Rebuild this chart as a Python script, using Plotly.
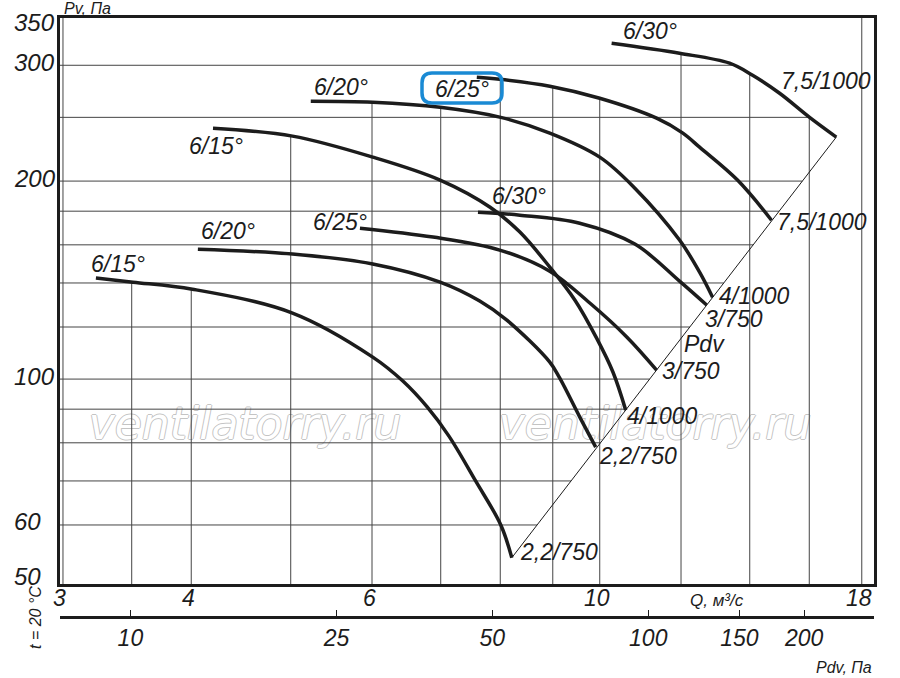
import numpy as np
import plotly.graph_objects as go

# --- данные: Q, м³/с и Pv, Па ---
# нижнее семейство (2,2/750 ... 3/750)
q_15_low = [3.23, 3.51, 4.01, 5.02, 6.01, 6.43, 6.79, 7.13, 7.57, 8.01, 8.21]
pv_15_low = [142.4, 140.4, 137.0, 126.0, 108.0, 99.3, 90.7, 81.9, 70.0, 60.0, 53.5]
q_20_low = [4.06, 5.02, 6.01, 6.99, 7.64, 8.12, 8.94, 9.14, 9.56, 9.91]
pv_20_low = [157.6, 154.9, 149.6, 140.4, 131.4, 122.9, 106.1, 100.4, 87.6, 78.8]
q_25_low = [5.84, 6.88, 7.99, 8.94, 9.78, 10.63, 11.36]
pv_25_low = [169.6, 164.4, 157.1, 145.9, 130.5, 115.8, 103.2]
q_30_low = [7.61, 8.36, 9.56, 10.82, 11.96, 12.71]
pv_30_low = [179.4, 177.5, 172.6, 160.4, 140.9, 129.6]

# верхнее семейство (4/1000 ... 7,5/1000)
q_15_up = [4.20, 5.02, 6.01, 6.99, 7.82, 8.36, 8.94, 9.46, 9.93, 10.30, 10.60]
pv_15_up = [240.7, 234.1, 217.5, 200.7, 182.5, 167.3, 148.0, 131.8, 115.4, 102.5, 89.7]
q_20_up = [5.23, 6.01, 6.99, 7.99, 8.94, 10.00, 10.82, 11.96, 12.51, 12.88]
pv_20_up = [264.5, 263.6, 259.0, 250.2, 236.6, 217.5, 195.1, 162.7, 145.4, 133.2]
q_25_up = [7.59, 7.99, 8.94, 10.00, 11.36, 12.05, 12.51, 13.62, 14.70]
pv_25_up = [287.7, 285.7, 278.8, 267.3, 249.3, 236.6, 225.2, 200.7, 174.4]
q_30_up = [10.27, 11.96, 13.38, 14.09, 14.97, 16.00, 17.00]
pv_30_up = [324.0, 312.9, 302.2, 289.7, 272.0, 250.2, 233.3]

# линия Pdv
pdv_q = [8.21, 17.0]
pdv_pv = [53.5, 233.3]

start_labels = ["6/15°", "6/20°", "6/25°", "6/30°", "6/15°", "6/20°", "6/25°", "6/30°"]
end_labels = ["2,2/750", "2,2/750", "3/750", "3/750", "4/1000", "4/1000", "7,5/1000", "7,5/1000"]

grid_q = [3, 3.5, 4, 5, 6, 7, 8, 9, 10, 12, 14, 16, 18]
grid_pv = [60, 70, 80, 90, 100, 120, 140, 160, 180, 200, 250, 300]
q_ticks = [3, 4, 6, 10, 18]
pv_ticks = [50, 60, 100, 200, 300, 350]
pdv_ticks = [10, 25, 50, 100, 150, 200]

curves = [
    (q_15_low, pv_15_low), (q_20_low, pv_20_low), (q_25_low, pv_25_low), (q_30_low, pv_30_low),
    (q_15_up, pv_15_up), (q_20_up, pv_20_up), (q_25_up, pv_25_up), (q_30_up, pv_30_up),
]

# сдвиги подписей, px
start_shift = [(22, 14), (30, 18), (-20, 6), (41, 16), (3, -18), (30, 14), (-15, -12), (38, 12)]
end_shift = [(6, 6), (1, -9), (3, -1), (-4, -14), (-1, -6), (4, 1), (3, -2), (-57, 56)]

Q_MIN, Q_MAX = 2.98, 18.5
PV_MIN, PV_MAX = 48.8, 354.0
PDV_RANGE = [0.864, 2.436]

W, H = 900, 678
ML, MR, MT, MB = 60, 26, 18, 61
PLOT_BOTTOM = 584


def px(x):
    return (x - ML) / (W - ML - MR)


def py(y):
    return (H - MB - y) / (H - MT - MB)


def lg(v):
    return float(np.log10(v))


# верх вертикальной линии сетки - самая высокая кривая над этим Q
def grid_top(qv):
    tops = []
    for q, pv in curves:
        if q[0] <= qv <= q[-1]:
            tops.append(10 ** np.interp(np.log10(qv), np.log10(q), np.log10(pv)))
    return max(tops) if tops else PV_MAX


# правый конец горизонтальной линии сетки
def grid_right(h):
    ends = []
    for q, pv in curves + [(pdv_q, pdv_pv)]:
        if min(pv) <= h <= max(pv):
            lq, lp = np.log10(q), np.log10(pv)
            order = np.argsort(lp)
            ends.append(10 ** np.interp(np.log10(h), lp[order], lq[order]))
    return max(ends) if ends else Q_MAX


gx, gy = [], []
for qv in grid_q:
    gx += [qv, qv, None]
    gy += [PV_MIN, grid_top(qv), None]
for h in grid_pv:
    gx += [Q_MIN, grid_right(h), None]
    gy += [h, h, None]

ink = "#1c1c1c"
fig = go.Figure()
fig.add_trace(go.Scatter(x=gx, y=gy, mode="lines", line=dict(color="#444444", width=1),
                         hoverinfo="skip", showlegend=False))
fig.add_trace(go.Scatter(x=pdv_q, y=pdv_pv, mode="lines", line=dict(color=ink, width=1),
                         hoverinfo="skip", showlegend=False))
for q, pv in curves:
    fig.add_trace(go.Scatter(x=q, y=pv, mode="lines",
                             line=dict(color=ink, width=3.5, shape="spline", smoothing=1.0),
                             showlegend=False))
# ось Pdv
fig.add_trace(go.Scatter(x=pdv_ticks, y=[None] * len(pdv_ticks), xaxis="x2", yaxis="y",
                         mode="markers", hoverinfo="skip", showlegend=False))

lab_font = dict(family="Liberation Sans", size=23, color=ink, style="italic")
ann = []
for (q, pv), t, (dx, dy) in zip(curves, start_labels, start_shift):
    ann.append(dict(x=lg(q[0]), y=lg(pv[0]), xref="x", yref="y", text=t, showarrow=False,
                    xshift=dx, yshift=dy, xanchor="center", yanchor="middle", font=lab_font))
for (q, pv), t, (dx, dy) in zip(curves, end_labels, end_shift):
    ann.append(dict(x=lg(q[-1]), y=lg(pv[-1]), xref="x", yref="y", text=t, showarrow=False,
                    xshift=dx, yshift=dy, xanchor="left", yanchor="middle", font=lab_font))
ann.append(dict(x=px(704), y=py(344), xref="paper", yref="paper", text="Pdv", showarrow=False,
                xanchor="center", yanchor="middle", font=lab_font))

# подписи оси Pv (выровнены влево, как на оригинале)
axis_font = dict(family="Liberation Sans", size=24, color=ink, style="italic")
for v in pv_ticks:
    shift = -1 if v == max(pv_ticks) else (1 if v == min(pv_ticks) else 3)
    ann.append(dict(x=px(12), y=lg(v), xref="paper", yref="y", text=str(v), showarrow=False,
                    xanchor="left", yanchor="middle", yshift=shift, font=axis_font))
# подписи оси Q
for v in q_ticks:
    ann.append(dict(x=lg(v), y=py(598), xref="x", yref="paper", text=str(v), showarrow=False,
                    xanchor="center", yanchor="middle", xshift=-3, font=dict(axis_font, size=23)))

small = dict(family="Liberation Sans", size=16, color=ink, style="italic")
ann += [
    dict(x=px(62), y=py(8), xref="paper", yref="paper", text="Pv, Па", showarrow=False,
         xanchor="left", yanchor="middle", font=small),
    dict(x=px(688), y=py(600), xref="paper", yref="paper", text="Q, м³/с", showarrow=False,
         xanchor="left", yanchor="middle", font=dict(small, size=17)),
    dict(x=px(814), y=py(667), xref="paper", yref="paper", text="Pdv, Па", showarrow=False,
         xanchor="left", yanchor="middle", font=small),
    dict(x=px(35), y=py(618), xref="paper", yref="paper", text="t = 20 °C", showarrow=False,
         textangle=-90, xanchor="center", yanchor="middle", font=small),
]

# синяя рамка вокруг подписи 6/25°
x0, x1, y0, y1 = px(422), px(502), py(103), py(73)
rx, ry = 10 / (W - ML - MR), 10 / (H - MT - MB)
box = (f"M {x0 + rx},{y1} L {x1 - rx},{y1} Q {x1},{y1} {x1},{y1 - ry} "
       f"L {x1},{y0 + ry} Q {x1},{y0} {x1 - rx},{y0} L {x0 + rx},{y0} "
       f"Q {x0},{y0} {x0},{y0 + ry} L {x0},{y1 - ry} Q {x0},{y1} {x0 + rx},{y1} Z")
shapes = [dict(type="path", path=box, xref="paper", yref="paper",
               line=dict(color="#1a8ad4", width=3.5))]

# водяной знак
wm_font = dict(family="DejaVu Sans", size=44, color="white", style="italic",
               shadow="1px 0 0 #c4c4c4, -1px 0 0 #c4c4c4, 0 1px 0 #c4c4c4, 0 -1px 0 #c4c4c4")
for cx in (245, 655):
    shapes.append(dict(type="rect", xref="paper", yref="paper", layer="below",
                       x0=px(cx - 170), x1=px(cx + 170), y0=py(445), y1=py(395),
                       line=dict(width=0), fillcolor="rgba(0,0,0,0)",
                       label=dict(text="ventilatorry.ru", font=wm_font,
                                  textposition="middle center")))

tick_font = dict(family="Liberation Sans", size=23, color=ink, style="italic")
fig.update_layout(
    width=W, height=H,
    margin=dict(l=ML, r=MR, t=MT, b=MB),
    paper_bgcolor="white", plot_bgcolor="rgba(0,0,0,0)",
    xaxis=dict(type="log", range=[lg(Q_MIN), lg(Q_MAX)], showgrid=False, zeroline=False,
               showline=True, linewidth=3, linecolor=ink, mirror=True,
               showticklabels=False, ticks="", anchor="y"),
    yaxis=dict(type="log", range=[lg(PV_MIN), lg(PV_MAX)],
               domain=[(H - MB - PLOT_BOTTOM) / (H - MT - MB), 1],
               showgrid=False, zeroline=False, showline=True, linewidth=3, linecolor=ink,
               mirror=True, showticklabels=False, ticks=""),
    xaxis2=dict(type="log", range=PDV_RANGE, overlaying="x", anchor="free", position=0,
                side="bottom", showgrid=False, zeroline=False, showline=True, linewidth=2.5,
                linecolor=ink, ticks="inside", ticklen=6, tickwidth=1, tickcolor=ink,
                tickvals=pdv_ticks, ticktext=[str(v) for v in pdv_ticks], tickfont=tick_font),
    annotations=ann,
    shapes=shapes,
    showlegend=False,
)

fig.write_html("out.html", config={"displayModeBar": False},
               post_script="document.body.style.margin='0px';")
